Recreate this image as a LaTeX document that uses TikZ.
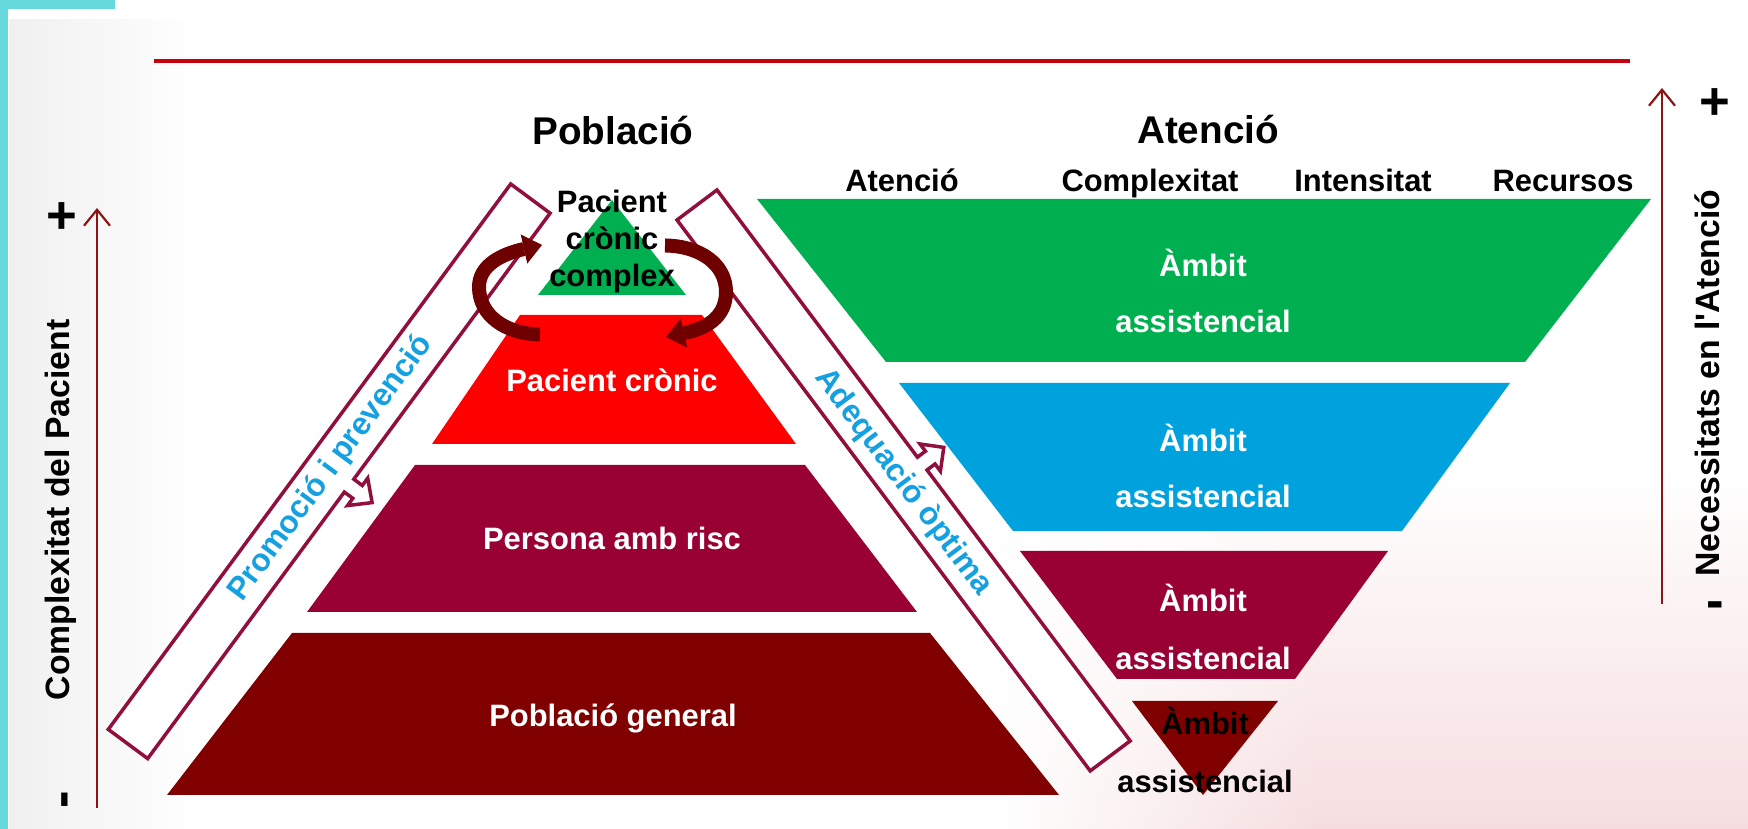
\documentclass[tikz,border=0pt]{standalone}
\usepackage{fontspec}
\setmainfont{Liberation Sans}
\usetikzlibrary{arrows.meta,fadings}
\definecolor{cyanbar}{RGB}{102,217,220}
\definecolor{topred}{RGB}{198,0,12}
\definecolor{pgreen}{RGB}{0,176,80}
\definecolor{pred}{RGB}{255,0,0}
\definecolor{pcrimson}{RGB}{153,0,51}
\definecolor{pmaroon}{RGB}{128,0,0}
\definecolor{pblue}{RGB}{0,162,222}
\definecolor{bandline}{RGB}{145,15,60}
\definecolor{bandtext}{RGB}{20,160,225}
\definecolor{arrowbrown}{RGB}{110,0,0}
\definecolor{axiscol}{RGB}{140,20,20}
\definecolor{bgpink}{RGB}{246,222,224}
\begin{document}
\begin{tikzpicture}[x=0.1mm,y=-0.1mm,
  lbl/.style={inner sep=0pt, anchor=base, font=\bfseries\fontsize{8.8}{10}\selectfont},
  wlbl/.style={lbl, text=white},
  ttl/.style={inner sep=0pt, anchor=base, font=\bfseries\fontsize{11}{13}\selectfont},
  axlbl/.style={inner sep=0pt, anchor=base, rotate=90, font=\bfseries\fontsize{9.6}{11}\selectfont},
  bandtxt/.style={inner sep=0pt, anchor=center, text=bandtext, font=\bfseries\fontsize{9}{11}\selectfont},
  pm/.style={inner sep=0pt, anchor=center, font=\bfseries\fontsize{15}{17}\selectfont},
  band/.style={draw=bandline, fill=white, line width=0.35mm, line join=miter},
  cycarrow/.style={draw=arrowbrown, line width=1.4mm},
  axisarrow/.style={draw=axiscol, line width=0.22mm, -{Straight Barb[length=1.6mm,width=2.6mm]}},
]
\useasboundingbox (0,0) rectangle (1748,829);
\fill[white] (0,0) rectangle (1748,829);
% faint background
\shade[top color=white, bottom color=bgpink] (1000,470) rectangle (1748,829);
\fill[white, path fading=east] (999,465) rectangle (1320,830);
\shade[left color=black!6, right color=white] (9,20) rectangle (200,829);
% cyan bars
\fill[cyanbar] (0,0) rectangle (8,829);
\fill[cyanbar] (0,0) rectangle (115,9);
% top red line
\draw[topred, line width=0.4mm] (154,61) -- (1630,61);

% population pyramid
\fill[pgreen] (538,295) -- (612,200) -- (686,295) -- cycle;
\fill[pred] (520,315) -- (702,315) -- (796,444) -- (432,444) -- cycle;
\fill[pcrimson] (415,465) -- (805,465) -- (917,612) -- (307,612) -- cycle;
\fill[pmaroon] (292,633) -- (930,633) -- (1059,795) -- (167,795) -- cycle;

% care (inverted) pyramid
\fill[pgreen] (757,199) -- (1651,199) -- (1525,362) -- (886,362) -- cycle;
\fill[pblue] (899,383) -- (1510,383) -- (1402,531) -- (1013,531) -- cycle;
\fill[pcrimson] (1020,551) -- (1388,551) -- (1295,679) -- (1117,679) -- cycle;
\fill[pmaroon] (1132,701) -- (1278,701) -- (1203,795) -- cycle;

% diagonal bands with small arrows
\draw[band] (108.3,729.4) -- (510.7,184.0) -- (550.1,213.2) -- (353.8,479.2) -- (362.3,485.5) -- (367.7,478.2) -- (372.1,502.6) -- (347.5,505.6) -- (352.8,498.3) -- (344.3,492.1) -- (147.7,758.6) -- cycle;
\draw[band] (677,220) -- (717,190) -- (917.4,457.2) -- (925.4,451.2) -- (920,444) -- (943.8,447.4) -- (940.4,471.2) -- (935,464) -- (927,470) -- (1130.2,740.9) -- (1090.2,770.9) -- cycle;

% cycle arrows between levels
\coordinate (la0) at (540,334.5);
\coordinate (la1) at (524,249);
\coordinate (lat) at (542,245);
\draw[cycarrow] (la0) .. controls (505,334) and (479,315) .. (479,287) .. controls (479,265) and (502,254) .. (la1);
\fill[arrowbrown] (lat) -- (520.7,234.4) -- (527.3,263.6) -- cycle;
\coordinate (ra0) at (665,245.5);
\coordinate (ra1) at (684,333);
\coordinate (rat) at (666,337);
\draw[cycarrow] (ra0) .. controls (700,246) and (726,264) .. (726,292) .. controls (726,318) and (705,329) .. (ra1);
\fill[arrowbrown] (rat) -- (687.3,347.6) -- (680.7,318.4) -- cycle;

% axes
\coordinate (lax0) at (97,808);
\coordinate (lax1) at (97,208);
\draw[axisarrow] (lax0) -- (lax1);
\coordinate (rax0) at (1662,604);
\coordinate (rax1) at (1662,88);
\draw[axisarrow] (rax0) -- (rax1);

% titles
\node[ttl] (tpob) at (613,145) {Població};
\node[ttl] (tate) at (1208,144) {Atenció};
\node[lbl] (hAt) at (902,192) {Atenció};
\node[lbl] (hCo) at (1150,192) {Complexitat};
\node[lbl] (hIn) at (1363,192) {Intensitat};
\node[lbl] (hRe) at (1563,192) {Recursos};

% pyramid labels
\node[lbl] (pc1) at (612,213) {Pacient};
\node[lbl] (pc2) at (612,250) {crònic};
\node[lbl] (pc3) at (612,287) {complex};
\node[wlbl] (pcr) at (612,392) {Pacient crònic};
\node[wlbl] (prs) at (612,550) {Persona amb risc};
\node[wlbl] (pgn) at (613,727) {Població general};

% care labels
\node[wlbl] (g1) at (1203,277) {Àmbit};
\node[wlbl] (g2) at (1203,333) {assistencial};
\node[wlbl] (b1) at (1203,452) {Àmbit};
\node[wlbl] (b2) at (1203,508) {assistencial};
\node[wlbl] (c1) at (1203,612) {Àmbit};
\node[wlbl] (c2) at (1203,670) {assistencial};
\node[lbl] (m1) at (1205,735) {Àmbit};
\node[lbl] (m2) at (1205,793) {assistencial};

% band texts
\node[bandtxt, rotate=53.6] (tprom) at (331,468) {Promoció i prevenció};
\node[bandtxt, rotate=-53.1] (tadeq) at (903,482) {Adequació òptima};

% axis labels
\node[axlbl] (lcx) at (69,510) {Complexitat del Pacient};
\node[axlbl] (rnec) at (1719,383) {Necessitats en l\textquotesingle Atenció};
\node[pm] (lplus) at (62,218) {+};
\node[pm, rotate=90] (lminus) at (70,800) {-};
\node[pm] (rplus) at (1715,104) {+};
\node[pm] (rminus) at (1715,610) {-};
\end{tikzpicture}
\end{document}
